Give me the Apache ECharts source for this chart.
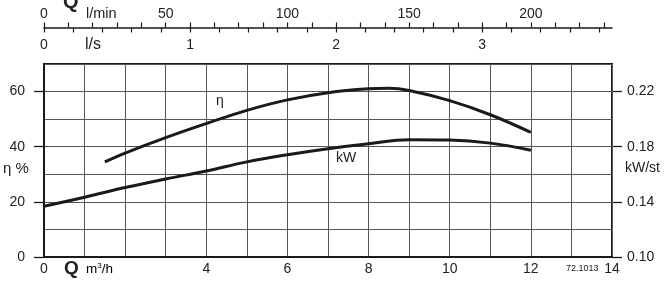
<!DOCTYPE html>
<html><head><meta charset="utf-8">
<script src="https://cdn.jsdelivr.net/npm/echarts@6/dist/echarts.min.js"></script>
<style>html,body{margin:0;padding:0;background:#fff}#c{width:669px;height:285px}</style>
</head><body><div id="c"></div>
<script>
// ---- data ----
const flowM3h   = [0, 1, 2, 3, 4, 5, 6, 7, 8, 9, 10, 11, 12];
const powerKW   = [0.1368, 0.1434, 0.1504, 0.1566, 0.1624, 0.1690, 0.1742, 0.1786, 0.1822, 0.1850, 0.1848, 0.1826, 0.1774];
const effFlow   = [1.5, 2, 3, 4, 5, 6, 7, 8, 8.5, 9, 10, 11, 12];
const effPct    = [34.5, 37.7, 43.3, 48.4, 53.2, 57.0, 59.6, 61.0, 61.2, 60.4, 56.7, 51.6, 45.2];
const bottomTickLabels = [0, 4, 6, 8, 10, 12, 14];
const lminTickLabels = [0, 50, 100, 150, 200];
const lsTickLabels = [0, 1, 2, 3];

// ---- layout ----
const W = 669, H = 285;
const L = 44, R = 57, T = 64, B = 28;
const plotW = W - L - R, plotH = H - T - B;
const pxPerM3h = plotW / 14;
const topLineY = 27.5, tickLen = 5, sideTick = 10;
const FONT = "'Liberation Sans', Arial, sans-serif";
const INK = '#1a1a1a', GRID = '#555', TXT = '#222';

const lminMax = 230, lsMax = 3.8;
const rightB = W - (L + (lminMax * 60 / 1000) * pxPerM3h);
const rightC = W - (L + (lsMax * 3.6) * pxPerM3h);
const topD = T + plotH * (10 / 70);

const chart = echarts.init(document.getElementById('c'), null, {renderer: 'canvas'});
const lbl = (extra) => Object.assign({fontSize: 14, color: TXT, fontFamily: FONT}, extra);
const isIntIn = (v, list) => Math.abs(v - Math.round(v)) < 1e-6 && list.includes(Math.round(v));
const tickLines = {show: true, lineStyle: {color: INK, width: 1.2}};
const hiddenX = (g, max) => ({gridIndex: g, type: 'value', show: false, min: 0, max: max});
const hiddenY = (g) => ({gridIndex: g, type: 'value', show: false, min: 0, max: 1});

chart.setOption({
  animation: false,
  backgroundColor: '#fff',
  grid: [
    // 0: main plot
    {left: L, right: R, top: T, bottom: B, show: true, borderColor: INK, borderWidth: 2, backgroundColor: 'transparent'},
    // 1: l/min ticks (above the top scale line)
    {left: L, right: rightB, top: topLineY - tickLen, bottom: H - topLineY},
    // 2: l/s ticks (below the top scale line)
    {left: L, right: rightC, top: topLineY, bottom: H - topLineY - tickLen},
    // 3: left η ticks
    {left: L - sideTick, right: W - L, top: topD, bottom: B},
    // 4: right kW ticks
    {left: W - R, right: R - sideTick, top: topD, bottom: B}
  ],
  xAxis: [
    {gridIndex: 0, type: 'value', position: 'bottom', min: 0, max: 14, interval: 1,
     axisLine: {show: true, lineStyle: {color: INK, width: 2}}, axisTick: {show: false},
     splitLine: {show: true, lineStyle: {color: GRID, width: 1}},
     axisLabel: lbl({margin: 5, formatter: v => bottomTickLabels.includes(v) ? String(v) : ''})},
    {gridIndex: 0, type: 'value', position: 'top', offset: T - topLineY, min: 0, max: 14,
     axisLine: {show: true, lineStyle: {color: INK, width: 1.5}}, axisTick: {show: false},
     axisLabel: {show: false}, splitLine: {show: false}},
    {gridIndex: 1, type: 'value', position: 'top', min: 0, max: lminMax, interval: 10,
     axisLine: {show: false}, axisTick: {show: false}, splitLine: tickLines,
     axisLabel: lbl({margin: 1, formatter: v => isIntIn(v, lminTickLabels) ? String(Math.round(v)) : ''})},
    {gridIndex: 2, type: 'value', position: 'bottom', min: 0, max: lsMax, interval: 0.2,
     axisLine: {show: false}, axisTick: {show: false}, splitLine: tickLines,
     axisLabel: lbl({margin: 6, formatter: v => isIntIn(v, lsTickLabels) ? String(Math.round(v)) : ''})},
    hiddenX(3, 1),
    hiddenX(4, 1)
  ],
  yAxis: [
    {gridIndex: 0, type: 'value', position: 'left', min: 0, max: 70, interval: 10,
     axisLine: {show: true, lineStyle: {color: INK, width: 2}}, axisTick: {show: false}, axisLabel: {show: false},
     splitLine: {show: true, lineStyle: {color: GRID, width: 1}}},
    {gridIndex: 0, type: 'value', position: 'right', min: 0.10, max: 0.24,
     axisLine: {show: true, lineStyle: {color: INK, width: 2}}, axisTick: {show: false}, axisLabel: {show: false},
     splitLine: {show: false}},
    hiddenY(1),
    hiddenY(2),
    {gridIndex: 3, type: 'value', position: 'left', min: 0, max: 60, interval: 20,
     axisLine: {show: false}, axisTick: {show: false},
     splitLine: {show: true, lineStyle: {color: INK, width: 1.3}}, axisLabel: lbl({margin: 9})},
    {gridIndex: 4, type: 'value', position: 'right', min: 0.10, max: 0.22, interval: 0.04,
     axisLine: {show: false}, axisTick: {show: false},
     splitLine: {show: true, lineStyle: {color: INK, width: 1.3}}, axisLabel: lbl({margin: 5, formatter: v => v.toFixed(2)})}
  ],
  series: [
    {name: 'η', type: 'line', xAxisIndex: 0, yAxisIndex: 0, smooth: 0.4, showSymbol: false, silent: true,
     lineStyle: {color: INK, width: 3}, data: effFlow.map((q, i) => [q, effPct[i]])},
    {name: 'kW', type: 'line', xAxisIndex: 0, yAxisIndex: 1, smooth: 0.4, showSymbol: false, silent: true,
     lineStyle: {color: INK, width: 3}, data: flowM3h.map((q, i) => [q, powerKW[i]])}
  ],
  graphic: [
    {type: 'text', left: 63, top: -8, style: {text: 'Q', font: "bold 20px " + FONT, fill: TXT}},
    {type: 'text', left: 86, top: 6, style: {text: 'l/min', font: "14.5px " + FONT, fill: TXT}},
    {type: 'text', left: 85, top: 37, style: {text: 'l/s', font: "16px " + FONT, fill: TXT}},
    {type: 'text', left: 64, top: 259, style: {text: 'Q', font: "bold 19px " + FONT, fill: TXT}},
    {type: 'text', left: 86, top: 262, style: {rich: {a: {fontSize: 13.5, fontFamily: FONT, color: TXT}, s: {fontSize: 8, fontFamily: FONT, verticalAlign: 'top', color: TXT}}, text: '{a|m}{s|3}{a|/h}'}},
    {type: 'text', left: 566, top: 264, style: {text: '72.1013', font: "9px " + FONT, fill: TXT}},
    {type: 'text', left: 3, top: 161, style: {text: 'η %', font: "15px " + FONT, fill: TXT}},
    {type: 'text', left: 625, top: 161, style: {text: 'kW/st', font: "14px " + FONT, fill: TXT}},
    {type: 'text', left: 216, top: 94, style: {text: 'η', font: "14px " + FONT, fill: TXT}},
    {type: 'text', left: 336, top: 151, style: {text: 'kW', font: "14px " + FONT, fill: TXT}}
  ]
});
</script>
</body></html>
